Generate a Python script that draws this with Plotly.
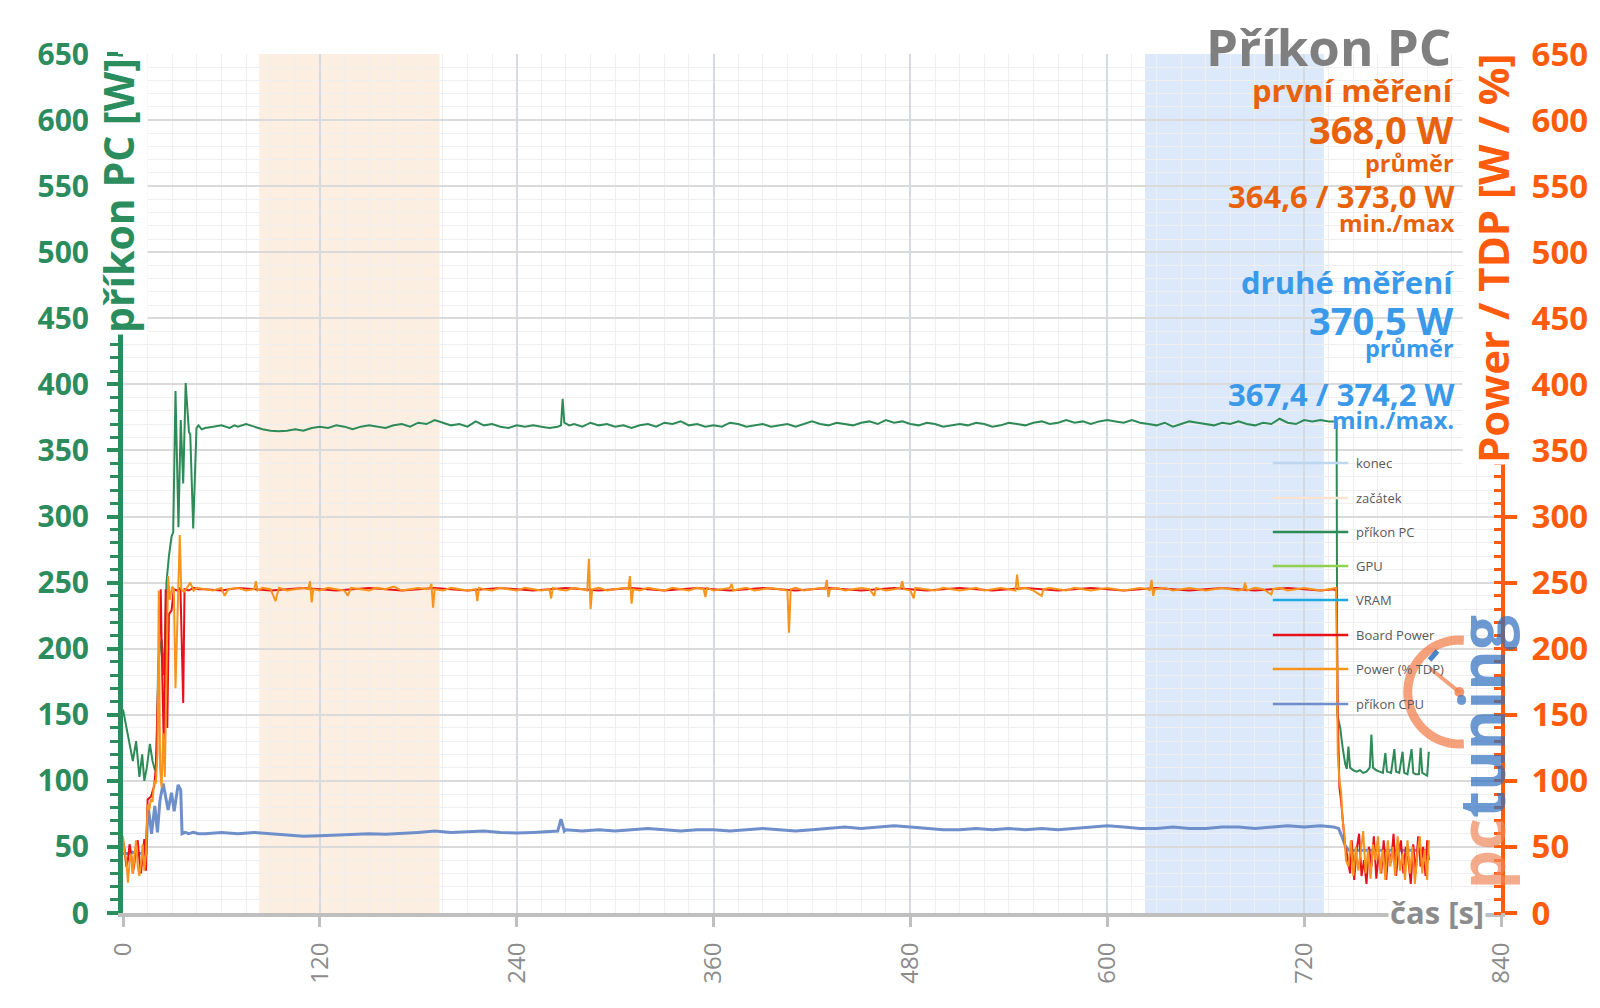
import math
import plotly.graph_objects as go

# ---------------- data ----------------
pc_t = [
    0, 2, 4, 6, 8, 10, 11.7, 13, 14.5, 16.4,
    18, 19.5, 20.5, 21.4, 23.5, 25, 26.5, 28, 29.6, 30.6,
    32, 33.8, 35.2, 36.7, 38.2, 40.2, 41, 42.8, 44.8, 46,
    48, 50, 55, 60, 65, 68, 70, 75, 80, 85,
    90, 95, 100, 105, 110, 115, 120, 125, 130, 135,
    140, 145, 150, 155, 160, 165, 170, 175, 180, 185,
    190, 195, 200, 205, 210, 215, 220, 225, 230, 235,
    240, 245, 250, 255, 260, 265, 267, 268, 269, 272,
    275, 280, 285, 290, 295, 300, 305, 310, 315, 320,
    325, 330, 335, 340, 345, 350, 355, 360, 365, 370,
    375, 380, 385, 390, 395, 400, 405, 410, 415, 420,
    425, 430, 435, 440, 445, 450, 455, 460, 465, 470,
    475, 480, 485, 490, 495, 500, 505, 510, 515, 520,
    525, 530, 535, 540, 545, 550, 555, 560, 565, 570,
    575, 580, 585, 590, 595, 600, 605, 610, 615, 620,
    625, 630, 635, 640, 645, 650, 655, 660, 665, 670,
    675, 680, 685, 690, 695, 700, 705, 710, 715, 720,
    725, 730, 735, 738, 739.8, 740.2, 742, 743.5, 745, 746,
    747, 748, 750, 752, 754, 756, 758, 760, 761, 762,
    764, 766, 768, 769.5, 770.5, 773, 775, 776, 778, 780,
    781, 783, 785.5, 786.5, 788, 790, 791, 792, 794, 795,
    796]
pc_w = [
    154, 140, 129, 115, 130, 103, 120, 100, 110, 128,
    115, 108, 111, 189, 207, 180, 250, 270, 285, 288,
    395, 292, 373, 325, 401, 364, 362, 291, 367, 369,
    366, 367, 368, 369, 367, 369, 368, 370, 368, 366,
    365, 364.6, 365, 366, 365, 367, 368, 367, 369, 368,
    366, 368, 369, 368, 367, 369, 370, 368, 371, 370,
    373, 371, 369, 370, 368, 372, 369, 370, 368, 367,
    369, 368, 369, 368, 367, 368, 369, 389, 371, 369,
    370, 368, 371, 369, 370, 368, 369, 367, 369, 370,
    368, 371, 370, 372, 369, 370, 368, 369, 368, 371,
    370, 368, 369, 370, 368, 369, 370, 368, 370, 372,
    370, 369, 371, 370, 369, 371, 372, 370, 373, 371,
    372, 370, 369, 371, 370, 368, 369, 370, 369, 371,
    370, 368, 369, 371, 370, 369, 371, 372, 370, 371,
    373, 371, 372, 370, 372, 373, 372, 371, 373, 371,
    370, 369, 371, 368, 370, 372, 371, 370, 369, 371,
    370, 372, 370, 369, 371, 370, 374, 371, 370, 373,
    372, 373, 372, 372, 371, 150, 140, 125, 113, 109,
    126, 110, 108, 107, 108, 106, 107, 110, 135, 110,
    108, 107, 106, 121, 107, 106, 124, 107, 106, 122,
    106, 105, 124, 106, 105, 105, 125, 106, 105, 104,
    122]

cpu_t = [
    0, 2, 4, 6, 8, 10, 12, 14, 15.3, 17.4,
    19.4, 21, 22.5, 24.5, 26, 27.5, 29.6, 31.2, 33.6, 35.2,
    36, 38, 40, 43, 46, 50, 60, 70, 80, 90,
    100, 110, 120, 130, 140, 150, 160, 170, 180, 190,
    200, 210, 220, 230, 240, 250, 260, 265, 267, 269,
    270, 280, 290, 300, 310, 320, 330, 340, 350, 360,
    370, 380, 390, 400, 410, 420, 430, 440, 450, 460,
    470, 480, 490, 500, 510, 520, 530, 540, 550, 560,
    570, 580, 590, 600, 610, 620, 630, 640, 650, 660,
    670, 680, 690, 700, 710, 720, 730, 738, 741, 743,
    745, 747, 760, 780, 796]
cpu_w = [
    45, 45, 45, 46, 45, 45, 45, 45, 81, 60,
    81, 61, 85, 98, 88, 78, 91, 77, 97, 93,
    60, 61, 60, 61, 60, 60, 61, 60, 61, 60,
    59, 58, 58.5, 59, 60, 60, 59.5, 60, 61, 62,
    61, 61.5, 62, 61, 60.5, 61, 62, 62, 71, 62,
    63, 62, 63, 62, 63, 64, 63, 62, 63, 63,
    62, 63, 64, 63, 62, 63, 64, 65, 64, 65,
    66, 65, 64, 63, 63, 64, 63, 64, 63, 64,
    63, 64, 65, 66, 65, 64, 64, 65, 64, 64,
    65, 65, 64, 65, 66, 65, 66, 65, 64, 58,
    51, 47.5, 47.5, 47.5, 47.5]

board_t = [
    0, 1, 2, 3, 4, 5, 6, 7, 8, 9,
    10, 11, 12, 13, 14, 15, 17, 19, 20, 21,
    22, 23, 24, 25, 26, 27, 28, 29.6, 31, 33,
    35, 36.7, 37.5, 40, 43, 46, 50, 60, 70, 80,
    90, 100, 110, 120, 130, 140, 150, 160, 170, 180,
    190, 200, 210, 220, 230, 240, 250, 260, 270, 280,
    290, 300, 310, 320, 330, 340, 350, 360, 370, 380,
    390, 400, 410, 420, 430, 440, 450, 460, 470, 480,
    490, 500, 510, 520, 530, 540, 550, 560, 570, 580,
    590, 600, 610, 620, 630, 640, 650, 660, 670, 680,
    690, 700, 710, 720, 730, 738, 739.8, 740.5, 741.5, 742.5,
    744, 745, 746, 748, 749, 750.5, 752, 753.5, 755, 756.5,
    758, 759.5, 761, 762.5, 764, 765.5, 767, 768.5, 770, 771.5,
    773, 774.5, 776, 777.5, 779, 780.5, 782, 783.5, 785, 786.5,
    788, 789.5, 791, 792.5, 794, 795, 796]
board_w = [
    55, 48, 35, 40, 52, 45, 30, 38, 52, 55,
    40, 30, 45, 56, 32, 86, 88, 96, 110, 150,
    200, 245, 175, 120, 245, 140, 226, 229, 245, 244,
    246, 159, 245, 244, 246, 245, 245, 244, 246, 245,
    244, 245, 246, 245, 244, 245, 246, 245, 244, 245,
    246, 245, 244, 245, 246, 245, 244, 245, 246, 245,
    244, 245, 246, 245, 244, 245, 246, 245, 244, 245,
    246, 245, 244, 245, 246, 245, 244, 245, 246, 245,
    244, 245, 246, 245, 244, 245, 246, 245, 244, 245,
    246, 245, 244, 245, 246, 245, 244, 245, 246, 245,
    244, 245, 246, 245, 244, 245, 244, 150, 95, 85,
    65, 50, 45, 30, 55, 25, 48, 60, 28, 40,
    22, 50, 35, 58, 26, 45, 30, 55, 25, 48,
    38, 60, 28, 45, 55, 30, 50, 40, 22, 52,
    30, 58, 35, 50, 28, 55, 40]

tdp_t = [
    0, 1, 2, 3, 4, 5, 6, 7, 8, 9,
    10, 11, 12, 13, 14, 15, 16, 17, 18, 19,
    20, 21, 21.8, 22.6, 23.5, 24.5, 25.5, 27.5, 28.5, 30,
    31, 32, 34.6, 35.5, 37, 39, 41, 43, 45, 50,
    55, 60, 62, 64, 70, 75, 80, 81, 82, 85,
    90, 93, 95, 100, 105, 110, 113, 114, 115, 116,
    120, 125, 130, 135, 137, 139, 145, 150, 155, 160,
    165, 170, 175, 180, 185, 187, 188, 189, 190, 195,
    200, 205, 210, 215, 216, 217, 220, 225, 230, 235,
    240, 245, 250, 255, 260, 261, 262, 265, 270, 275,
    280, 283, 284, 285, 286, 290, 295, 300, 305, 308,
    309, 310, 311, 315, 320, 325, 330, 335, 340, 345,
    350, 354, 355, 356, 360, 365, 370, 371, 372, 375,
    380, 385, 390, 395, 400, 405, 406, 407, 410, 415,
    420, 425, 428, 429, 430, 431, 435, 440, 445, 450,
    455, 458, 459, 465, 470, 474, 475, 476, 480, 482,
    483, 490, 495, 500, 505, 510, 515, 520, 525, 530,
    535, 540, 544, 545, 546, 550, 555, 560, 561, 565,
    570, 575, 580, 585, 590, 595, 600, 605, 610, 615,
    620, 625, 626, 627, 628, 629, 635, 640, 645, 650,
    655, 660, 665, 670, 675, 680, 683, 684, 685, 690,
    695, 700, 701, 705, 710, 715, 720, 725, 730, 735,
    739.5, 740.5, 741.5, 742.5, 743.5, 744.5, 745.5, 747, 748.5, 750,
    751.5, 753, 754.5, 756, 757.5, 759, 760.5, 762, 763.5, 765,
    766.5, 768, 769.5, 771, 772.5, 774, 775.5, 777, 778.5, 780,
    781.5, 783, 784.5, 786, 787.5, 789, 790.5, 792, 793.5, 795,
    796]
tdp_w = [
    58, 45, 40, 23, 38, 45, 30, 42, 55, 35,
    28, 38, 52, 32, 45, 82, 78, 86, 84, 100,
    98, 120, 244, 110, 95, 136, 103, 255, 237, 247,
    245, 170, 286, 245, 243, 246, 250, 244, 246, 245,
    244, 246, 240, 245, 246, 244, 245, 251, 244, 246,
    245, 236, 246, 244, 245, 246, 245, 251, 235, 245,
    244, 246, 245, 244, 240, 246, 245, 244, 246, 245,
    247, 244, 245, 246, 245, 246, 249, 231, 245, 244,
    246, 245, 244, 245, 236, 246, 245, 244, 246, 245,
    244, 246, 245, 244, 245, 238, 246, 245, 244, 246,
    245, 244, 268, 230, 245, 246, 244, 245, 246, 245,
    255, 234, 245, 244, 246, 245, 244, 246, 245, 244,
    246, 245, 239, 246, 244, 245, 246, 249, 244, 245,
    246, 244, 245, 246, 245, 244, 212, 245, 246, 244,
    245, 246, 245, 252, 239, 245, 246, 244, 245, 246,
    245, 240, 246, 244, 245, 246, 251, 245, 244, 238,
    246, 245, 244, 246, 245, 244, 245, 246, 244, 245,
    246, 245, 244, 256, 245, 246, 244, 240, 245, 246,
    245, 244, 246, 245, 244, 245, 246, 245, 244, 245,
    246, 245, 244, 252, 240, 245, 246, 244, 245, 246,
    245, 244, 245, 246, 245, 244, 245, 250, 244, 246,
    245, 241, 245, 246, 244, 245, 246, 245, 244, 245,
    246, 120, 100, 92, 70, 60, 40, 35, 55, 28,
    50, 32, 45, 62, 30, 48, 26, 52, 40, 58,
    30, 48, 25, 55, 35, 50, 28, 58, 32, 45,
    25, 55, 30, 50, 22, 45, 58, 30, 48, 25,
    55]

assert len(pc_t) == len(pc_w)
assert len(cpu_t) == len(cpu_w)
assert len(board_t) == len(board_w)
assert len(tdp_t) == len(tdp_w)

start_window = [83, 193]   # "začátek"
end_window = [623, 732]    # "konec"

x_ticks = [0, 120, 240, 360, 480, 600, 720, 840]
y_ticks = list(range(0, 651, 50))

legend_names = ["konec", "začátek", "příkon PC", "GPU", "VRAM",
                "Board Power", "Power (% TDP)", "příkon CPU"]
legend_colors = ["#bdd7ee", "#fbe3d2", "#2e8b57", "#92d050", "#1fa9e1",
                 "#e8101b", "#f7941d", "#6f8fca"]

first_lines = ["první měření", "368,0 W", "průměr", "364,6 / 373,0 W", "min./max"]
second_lines = ["druhé měření", "370,5 W", "průměr", "367,4 / 374,2 W", "min./max."]

# ---------------- layout helpers ----------------
W, H = 1600, 1008
L, R, T, B = 123, 88, 54, 95
PW = W - L - R
PH = H - T - B


def px(x):
    return (x - L) / PW


def py(y):
    return (H - B - y) / PH


GREEN = "#2b8c5e"
ORANGE_AX = "#ff5b0d"
FONT = "Open Sans"

fig = go.Figure()

fig.add_trace(go.Scatter(x=board_t, y=board_w, mode="lines", name="Board Power",
                         line=dict(color="#e8101b", width=2), yaxis="y2"))
fig.add_trace(go.Scatter(x=tdp_t, y=tdp_w, mode="lines", name="Power (% TDP)",
                         line=dict(color="#f7941d", width=2), yaxis="y2"))
fig.add_trace(go.Scatter(x=pc_t, y=pc_w, mode="lines", name="příkon PC",
                         line=dict(color="#2e8b57", width=2)))
fig.add_trace(go.Scatter(x=cpu_t, y=cpu_w, mode="lines", name="příkon CPU",
                         line=dict(color="#6f8fca", width=3)))

shapes = []
shapes.append(dict(type="rect", xref="x", yref="y", x0=start_window[0], x1=start_window[1],
                   y0=0, y1=650, fillcolor="#fdeee2", line=dict(width=0), layer="below"))
shapes.append(dict(type="rect", xref="x", yref="y", x0=end_window[0], x1=end_window[1],
                   y0=0, y1=650, fillcolor="#dbe9fa", line=dict(width=0), layer="below"))

annotations = []

# legend (manual)
rows = [463, 498, 532, 566, 600, 635, 669, 704]
for name, col, ry in zip(legend_names, legend_colors, rows):
    shapes.append(dict(type="line", xref="paper", yref="paper",
                       x0=px(1282), x1=px(1358), y0=py(ry), y1=py(ry),
                       line=dict(color=col, width=2.5)))
    annotations.append(dict(xref="paper", yref="paper", x=px(1364), y=py(ry),
                            xanchor="left", yanchor="middle", showarrow=False,
                            text=name, font=dict(family=FONT, size=13, color="#595959")))

# watermark gauge
cx, cy, rr = 1470, 692, 52
pts = [(cx + rr * math.cos(math.radians(a)), cy - rr * math.sin(math.radians(a)))
       for a in range(85, 276, 5)]
path = "M " + " L ".join(f"{px(x):.5f},{py(y):.5f}" for x, y in pts)
shapes.append(dict(type="path", xref="paper", yref="paper", path=path,
                   line=dict(color="rgba(240,130,80,0.75)", width=9)))
shapes.append(dict(type="line", xref="paper", yref="paper",
                   x0=px(cx), y0=py(cy), x1=px(1440), y1=py(668),
                   line=dict(color="rgba(240,130,80,0.75)", width=4)))
shapes.append(dict(type="circle", xref="paper", yref="paper",
                   x0=px(cx - 5), x1=px(cx + 5), y0=py(cy + 5), y1=py(cy - 5),
                   fillcolor="rgba(240,130,80,0.85)", line=dict(width=0)))
shapes.append(dict(type="line", xref="paper", yref="paper",
                   x0=px(1440), y0=py(660), x1=px(1448), y1=py(651),
                   line=dict(color="rgba(45,110,190,0.85)", width=5)))
annotations.append(dict(xref="paper", yref="paper", x=px(1492), y=py(752),
                        xanchor="center", yanchor="middle", showarrow=False, textangle=-90,
                        text="<b><span style='color:rgba(240,135,90,0.7)'>pc</span>"
                             "<span style='color:rgba(45,110,190,0.7)'>tuning</span></b>",
                        font=dict(family=FONT, size=62)))

# axis titles
annotations.append(dict(xref="paper", yref="paper", x=px(118), y=py(196),
                        xanchor="center", yanchor="middle", showarrow=False, textangle=-90,
                        text="<b>příkon PC [W]</b>", bgcolor="white",
                        font=dict(family=FONT, size=41, color=GREEN)))
annotations.append(dict(xref="paper", yref="paper", x=px(1503), y=py(258),
                        xanchor="center", yanchor="middle", showarrow=False, textangle=-90,
                        text="<b>Power / TDP [W / %]</b>", bgcolor="white",
                        font=dict(family=FONT, size=42, color=ORANGE_AX)))
annotations.append(dict(xref="paper", yref="paper", x=px(1497), y=py(912),
                        xanchor="right", yanchor="middle", showarrow=False,
                        text="<b>čas [s]</b>", bgcolor="white",
                        font=dict(family=FONT, size=31, color="#8c8c8c")))

# title + text block
annotations.append(dict(xref="paper", yref="paper", x=px(1464), y=py(46),
                        xanchor="right", yanchor="middle", showarrow=False,
                        text="<b>Příkon PC</b>", font=dict(family=FONT, size=51, color="#7f7f7f")))

OR_T = "#e8620c"
BL_T = "#3b99ea"
sizes1 = [31, 38, 23.5, 31, 24]
sizes2 = [31, 38, 23.5, 31, 24]
y1 = [90, 129, 163, 196, 222]
y2 = [282, 320, 348, 394, 419]
for txt, s, yy in zip(first_lines, sizes1, y1):
    annotations.append(dict(xref="paper", yref="paper", x=px(1467), y=py(yy),
                            xanchor="right", yanchor="middle", showarrow=False,
                            text=f"<b>{txt}</b>", font=dict(family=FONT, size=s, color=OR_T)))
for txt, s, yy in zip(second_lines, sizes2, y2):
    annotations.append(dict(xref="paper", yref="paper", x=px(1467), y=py(yy),
                            xanchor="right", yanchor="middle", showarrow=False,
                            text=f"<b>{txt}</b>", font=dict(family=FONT, size=s, color=BL_T)))

fig.update_layout(
    width=W, height=H,
    margin=dict(l=L, r=R, t=T, b=B, pad=0),
    plot_bgcolor="white", paper_bgcolor="white",
    showlegend=False,
    font=dict(family=FONT),
    shapes=shapes,
    annotations=annotations,
    xaxis=dict(
        range=[0, 840], tickvals=x_ticks, tickangle=-90,
        tickfont=dict(family=FONT, size=24, color="#8c8c8c"),
        showline=True, linecolor="#bfbfbf", linewidth=4,
        ticks="outside", ticklen=10, tickwidth=3, tickcolor="#bfbfbf",
        showgrid=True, gridcolor="#d5dbe5", gridwidth=1.5,
        minor=dict(dtick=15, showgrid=True, gridcolor="#efefef", gridwidth=1),
        zeroline=False, ticklabelstandoff=6,
    ),
    yaxis=dict(
        range=[0, 650], tickvals=y_ticks,
        tickfont=dict(family=FONT, size=30, color=GREEN, weight="bold"),
        showline=True, linecolor=GREEN, linewidth=5,
        ticks="outside", ticklen=11, tickwidth=4, tickcolor=GREEN,
        minor=dict(dtick=10, ticks="outside", ticklen=8, tickwidth=3, tickcolor=GREEN,
                   showgrid=True, gridcolor="#efefef", gridwidth=1),
        showgrid=True, gridcolor="#dadada", gridwidth=1.5,
        zeroline=False, ticklabelstandoff=12,
    ),
    yaxis3=dict(
        range=[0, 650], tickvals=y_ticks, overlaying="y", side="left", anchor="x",
        ticks="inside", ticklen=11, tickwidth=4, tickcolor=GREEN,
        showticklabels=False, showgrid=False, showline=False, zeroline=False,
    ),
    yaxis2=dict(
        range=[0, 650], tickvals=y_ticks, overlaying="y", side="right", anchor="x",
        tickfont=dict(family=FONT, size=33, color=ORANGE_AX, weight="bold"),
        showline=True, linecolor=ORANGE_AX, linewidth=4,
        ticks="outside", ticklen=12, tickwidth=4, tickcolor=ORANGE_AX,
        minor=dict(dtick=10, ticks="inside", ticklen=7, tickwidth=3, tickcolor=ORANGE_AX,
                   showgrid=False),
        showgrid=False, zeroline=False, ticklabelstandoff=8,
    ),
    yaxis4=dict(
        range=[0, 650], tickvals=y_ticks, overlaying="y", side="right", anchor="x",
        ticks="inside", ticklen=12, tickwidth=4, tickcolor=ORANGE_AX,
        showticklabels=False, showgrid=False, showline=False, zeroline=False,
    ),
)

fig.write_html("out.html")
